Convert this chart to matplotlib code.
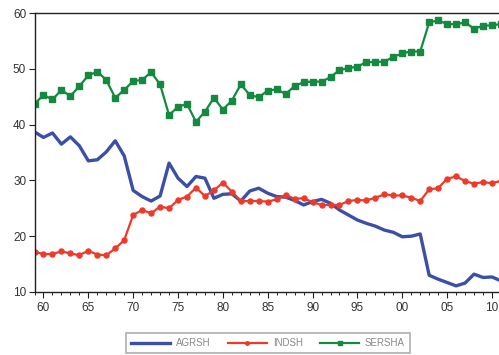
import matplotlib
matplotlib.use("Agg")
import matplotlib.pyplot as plt
from matplotlib.ticker import MultipleLocator, FixedLocator

years = list(range(1959, 2012))

agrsh = [38.7, 37.7, 38.5, 36.5, 37.8, 36.2, 33.5, 33.7, 35.1, 37.1,
         34.4, 28.2, 27.1, 26.3, 27.2, 33.1, 30.4, 28.9, 30.7, 30.4,
         26.8, 27.5, 27.6, 26.3, 28.1, 28.6, 27.7, 27.1, 27.0, 26.4,
         25.6, 26.2, 26.6, 25.9, 24.7, 23.8, 22.9, 22.3, 21.8, 21.1,
         20.7, 19.9, 20.0, 20.4, 13.0, 12.3, 11.7, 11.1, 11.6, 13.2,
         12.6, 12.7, 12.0]

indsh = [17.2, 16.8, 16.8, 17.3, 16.9, 16.6, 17.4, 16.7, 16.6, 17.8,
         19.3, 23.8, 24.7, 24.1, 25.3, 25.0, 26.5, 27.1, 28.7, 27.2,
         28.2, 29.6, 28.0, 26.3, 26.3, 26.3, 26.2, 26.6, 27.4, 26.7,
         26.8, 26.1, 25.6, 25.6, 25.6, 26.3, 26.5, 26.4, 26.9, 27.5,
         27.3, 27.3, 26.9, 26.3, 28.4, 28.6, 30.3, 30.7, 29.9, 29.4,
         29.7, 29.5, 29.9]

sersha = [43.7, 45.3, 44.5, 46.2, 45.1, 46.9, 48.8, 49.5, 48.0, 44.8,
          46.2, 47.8, 48.0, 49.4, 47.2, 41.7, 43.2, 43.7, 40.5, 42.3,
          44.8, 42.7, 44.3, 47.2, 45.3, 44.9, 46.1, 46.3, 45.5, 46.9,
          47.6, 47.7, 47.7, 48.5, 49.8, 50.1, 50.4, 51.2, 51.2, 51.3,
          52.1, 52.8, 53.1, 53.1, 58.3, 58.7, 58.0, 58.0, 58.3, 57.2,
          57.7, 57.8, 58.0]

tick_years = [1960, 1965, 1970, 1975, 1980, 1985, 1990, 1995, 2000, 2005, 2010]
tick_labels = ["60", "65", "70", "75", "80", "85", "90", "95", "00", "05", "10"]
series_names = ["AGRSH", "INDSH", "SERSHA"]

plt.rcParams['font.family'] = ['Liberation Sans', 'DejaVu Sans']

fig = plt.figure(figsize=(4.99, 3.55), dpi=100)
ax = fig.add_axes([34.5 / 499, (355 - 292) / 355, 1 - 34.5 / 499, (292 - 13) / 355])

blue = "#3b4fa6"
red = "#ee3a2a"
green = "#14893f"

ax.plot(years, agrsh, color=blue, lw=2.4, label=series_names[0], solid_joinstyle='round')
ax.plot(years, indsh, color=red, lw=1.6, marker='o', ms=3.6, label=series_names[1])
ax.plot(years, sersha, color=green, lw=1.6, marker='s', ms=4.8, label=series_names[2])

ax.set_xlim(1959, 1959 + (499 - 34.5) / 8.97)
ax.set_ylim(10, 60)
ax.xaxis.set_major_locator(FixedLocator(tick_years))
ax.set_xticklabels(tick_labels)
ax.xaxis.set_minor_locator(MultipleLocator(1))
ax.yaxis.set_major_locator(MultipleLocator(10))

ax.spines['right'].set_visible(False)
for s in ['left', 'bottom', 'top']:
    ax.spines[s].set_color('#222222')
    ax.spines[s].set_linewidth(1.0)

ax.tick_params(axis='both', which='major', direction='out', length=4, width=0.8,
               colors='#222222', labelsize=8.5, labelcolor='#333333')
ax.tick_params(axis='x', which='minor', direction='out', length=2.5, width=0.7, colors='#222222')
ax.tick_params(axis='x', which='major', pad=3)
ax.tick_params(axis='y', which='major', pad=2)

leg = fig.legend(loc='center', bbox_to_anchor=(268 / 499, 1 - 343 / 355), ncol=3,
                 fontsize=7, frameon=True, fancybox=False, handlelength=4.0,
                 columnspacing=1.8, handletextpad=0.6, borderpad=0.5, markerscale=0.7)
leg.get_frame().set_edgecolor('#999999')
leg.get_frame().set_linewidth(1.2)
for t in leg.get_texts():
    t.set_color('#888888')

fig.savefig("out.png", dpi=100)
